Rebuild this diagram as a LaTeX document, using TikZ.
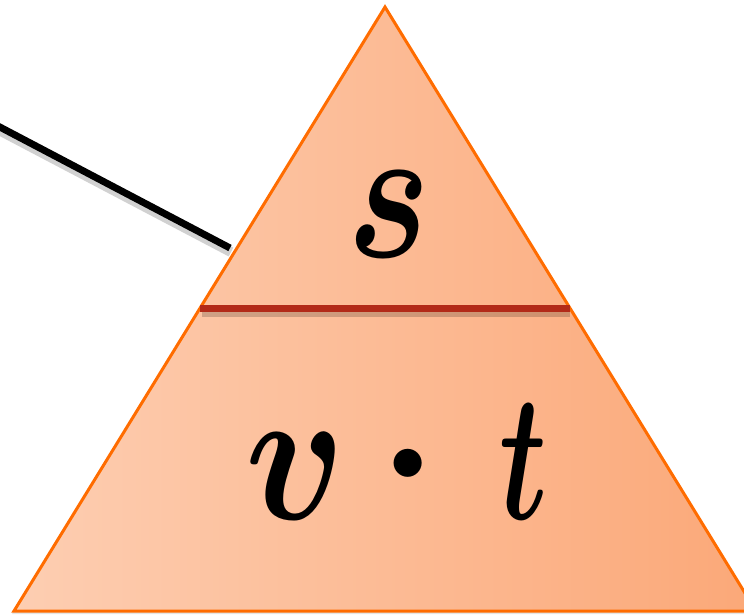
\documentclass[tikz,border=0pt]{standalone}
\usepackage{amsmath}
\usepackage{graphicx}
\definecolor{triL}{RGB}{253,206,178}
\definecolor{triR}{RGB}{251,168,120}
\definecolor{triEdge}{RGB}{255,108,0}
\definecolor{barRed}{RGB}{178,42,24}
\tikzset{
  edgeline/.style={draw=triEdge, line width=3pt, line join=miter},
  barline/.style={draw=barRed, line width=7pt},
  pointer/.style={draw=black, line width=7pt},
  softshadow/.style={draw=black, opacity=0.18, line width=10pt},
  glyph/.style={inner sep=0pt, outer sep=0pt, text=black},
}
\begin{document}
\begin{tikzpicture}[x=1pt,y=-1pt]
\useasboundingbox (0,0) rectangle (744,614);
\clip (0,0) rectangle (744,614);
\coordinate (apex) at (385,7);
\coordinate (bl) at (14,611);
\coordinate (br) at (756,611);
\coordinate (ml) at (200,308);
\coordinate (mr) at (570,308);
\coordinate (lfree) at (-4,125);
\coordinate (lend) at (230,248);
% triangle shadow
\fill[black, opacity=0.10] ([shift={(1,3)}]apex) -- ([shift={(-2,3)}]bl) -- ([shift={(2,3)}]br) -- cycle;
\shade[left color=triL, right color=triR] (apex) -- (bl) -- (br) -- cycle;
\path[edgeline] (apex) -- (bl) -- (br) -- cycle;
% pointer line with shadow
\path[softshadow] ([shift={(1,4)}]lfree) -- ([shift={(1,4)}]lend);
\path[pointer] (lfree) -- (lend);
% bar with shadow
\path[softshadow, line width=9pt] ([shift={(2,4)}]ml) -- ([shift={(0,4)}]mr);
\path[barline] (ml) -- (mr);
% texts
\node[glyph, anchor=south] (s) at (388.5,257) {\resizebox{83pt}{86pt}{$\boldsymbol{s}$}};
\node[glyph, anchor=south] (v) at (295.5,519) {\resizebox{100pt}{86pt}{$\boldsymbol{v}$}};
\node[glyph, anchor=base, scale=18] (dot) at (408.5,508) {$\boldsymbol{\cdot}$};
\node[glyph, anchor=south] (t) at (523,519) {\resizebox{48pt}{115pt}{$\boldsymbol{t}$}};
\end{tikzpicture}
\end{document}
